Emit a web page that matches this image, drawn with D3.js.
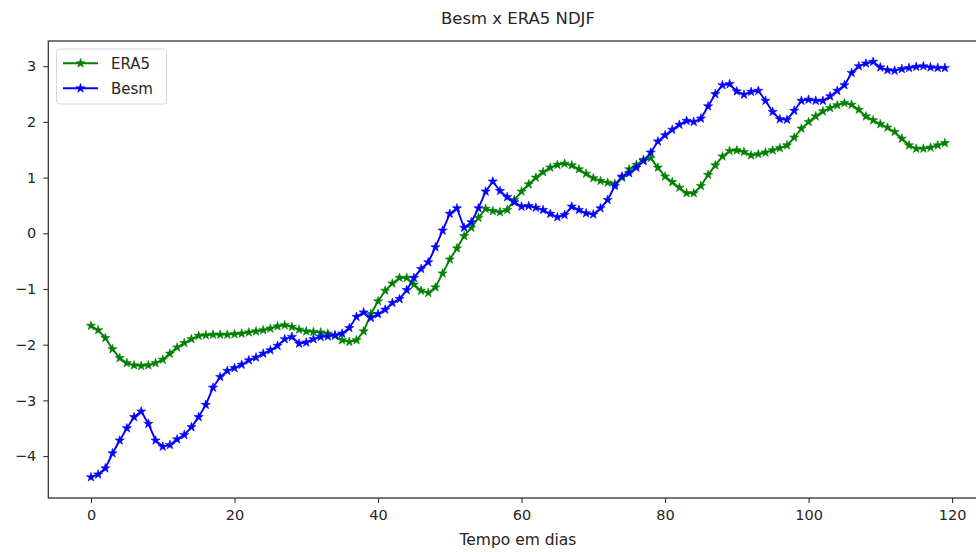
<!DOCTYPE html>
<html>
<head>
<meta charset="utf-8">
<script src="https://cdn.jsdelivr.net/npm/d3@7"></script>
<style>
  html, body { margin: 0; padding: 0; background: #fff; }
  svg { display: block; }
  text { font-family: "DejaVu Sans", sans-serif; fill: #262626; }
</style>
</head>
<body>
<svg id="chart" width="976" height="552"></svg>
<script>
const title = "Besm x ERA5 NDJF";
const xLabel = "Tempo em dias";
const seriesNames = ["ERA5", "Besm"];
const seriesColors = ["#008000", "#0000ff"];
const xTicks = [0, 20, 40, 60, 80, 100, 120];
const yTicks = [-4, -3, -2, -1, 0, 1, 2, 3];

const era5 = [
  -1.66, -1.74, -1.88, -2.08, -2.24, -2.33, -2.37, -2.38, -2.37, -2.33,
  -2.27, -2.16, -2.05, -1.97, -1.90, -1.84, -1.83, -1.82, -1.82, -1.82,
  -1.81, -1.80, -1.78, -1.76, -1.74, -1.71, -1.67, -1.65, -1.68, -1.73,
  -1.76, -1.77, -1.78, -1.80, -1.84, -1.92, -1.95, -1.92, -1.76, -1.45,
  -1.22, -1.03, -0.90, -0.80, -0.80, -0.92, -1.03, -1.07, -0.97, -0.72,
  -0.47, -0.27, -0.05, 0.10, 0.28, 0.44, 0.40, 0.38, 0.42, 0.60,
  0.75, 0.88, 1.00, 1.10, 1.18, 1.23, 1.25, 1.22, 1.15, 1.07,
  0.99, 0.94, 0.91, 0.89, 1.00, 1.15, 1.23, 1.32, 1.35, 1.18,
  1.02, 0.92, 0.82, 0.72, 0.72, 0.85, 1.05, 1.22, 1.38, 1.48,
  1.49, 1.46, 1.40, 1.42, 1.45, 1.49, 1.53, 1.58, 1.72, 1.88,
  2.00, 2.10, 2.19, 2.25, 2.30, 2.34, 2.31, 2.22, 2.10, 2.03,
  1.96, 1.90, 1.82, 1.70, 1.58, 1.52, 1.52, 1.54, 1.58, 1.62
];

const besm = [
  -4.38, -4.33, -4.22, -3.95, -3.72, -3.50, -3.30, -3.20, -3.42, -3.72,
  -3.83, -3.80, -3.70, -3.62, -3.48, -3.30, -3.08, -2.77, -2.58, -2.47,
  -2.42, -2.36, -2.28, -2.23, -2.16, -2.10, -2.02, -1.90, -1.86, -1.98,
  -1.96, -1.90, -1.86, -1.85, -1.83, -1.80, -1.70, -1.50, -1.42, -1.52,
  -1.45, -1.37, -1.25, -1.18, -1.02, -0.80, -0.64, -0.52, -0.25, 0.05,
  0.35, 0.45, 0.10, 0.20, 0.45, 0.75, 0.93, 0.76, 0.65, 0.56,
  0.48, 0.49, 0.46, 0.42, 0.35, 0.29, 0.33, 0.48, 0.42, 0.36,
  0.34, 0.45, 0.60, 0.85, 1.02, 1.08, 1.18, 1.30, 1.45, 1.65,
  1.76, 1.86, 1.95, 2.02, 2.00, 2.06, 2.28, 2.50, 2.66, 2.68,
  2.55, 2.49, 2.54, 2.56, 2.38, 2.18, 2.05, 2.04, 2.20, 2.38,
  2.40, 2.38, 2.38, 2.46, 2.56, 2.66, 2.88, 3.00, 3.05, 3.08,
  2.98, 2.93, 2.92, 2.95, 2.97, 2.99, 3.00, 2.98, 2.97, 2.97
];

const allSeries = [era5, besm];

const svg = d3.select("#chart");
const plot = { left: 48.3, top: 41, right: 987.6, bottom: 498 };

// matplotlib-style 5% margins
const n = era5.length;
const xMin = 0, xMax = n - 1;
const allVals = era5.concat(besm);
const yMin = d3.min(allVals), yMax = d3.max(allVals);
const xPad = (xMax - xMin) * 0.05, yPad = (yMax - yMin) * 0.05;

const x = d3.scaleLinear().domain([xMin - xPad, xMax + xPad]).range([plot.left, plot.right]);
const y = d3.scaleLinear().domain([yMin - yPad, yMax + yPad]).range([plot.bottom, plot.top]);

const fmt = v => (v < 0 ? "\u2212" + Math.abs(v) : String(v));

// axes
const xAxis = d3.axisBottom(x).tickValues(xTicks).tickSize(5).tickPadding(7).tickFormat(fmt);
const yAxis = d3.axisLeft(y).tickValues(yTicks).tickSize(5).tickPadding(7).tickFormat(fmt);

const gx = svg.append("g").attr("transform", `translate(0,${plot.bottom})`).call(xAxis);
const gy = svg.append("g").attr("transform", `translate(${plot.left},0)`).call(yAxis);
[gx, gy].forEach(g => {
  g.select(".domain").remove();
  g.selectAll(".tick line").attr("stroke", "#333").attr("stroke-width", 1.1);
  g.selectAll(".tick text").attr("font-size", 14.5).style("font-family", "'DejaVu Sans', sans-serif").attr("fill", "#262626");
});

// lines
const line = d3.line().x((d, i) => x(i)).y(d => y(d));
const star = d3.symbol().type(d3.symbolStar).size(26);

allSeries.forEach((data, si) => {
  const g = svg.append("g");
  g.append("path")
    .datum(data)
    .attr("d", line)
    .attr("fill", "none")
    .attr("stroke", seriesColors[si])
    .attr("stroke-width", 1.9)
    .attr("stroke-linejoin", "round");
  g.selectAll("path.m")
    .data(data)
    .enter().append("path")
    .attr("class", "m")
    .attr("d", star)
    .attr("transform", (d, i) => `translate(${x(i)},${y(d)})`)
    .attr("fill", seriesColors[si])
    .attr("stroke", seriesColors[si])
    .attr("stroke-width", 0.6);
});

// frame
svg.append("rect")
  .attr("x", plot.left).attr("y", plot.top)
  .attr("width", plot.right - plot.left).attr("height", plot.bottom - plot.top)
  .attr("fill", "none").attr("stroke", "#333").attr("stroke-width", 1.3);

// title & label
svg.append("text")
  .attr("x", (plot.left + plot.right) / 2).attr("y", 24)
  .attr("text-anchor", "middle").attr("font-size", 16.5)
  .text(title);
svg.append("text")
  .attr("x", (plot.left + plot.right) / 2).attr("y", 545)
  .attr("text-anchor", "middle").attr("font-size", 15.5)
  .text(xLabel);

// legend
const lg = svg.append("g");
lg.append("rect")
  .attr("x", 56.5).attr("y", 49).attr("width", 110).attr("height", 55)
  .attr("rx", 3).attr("fill", "#fff").attr("fill-opacity", 0.8)
  .attr("stroke", "#d8d8d8").attr("stroke-width", 1);
seriesNames.forEach((name, i) => {
  const yy = 63.3 + i * 25;
  lg.append("line")
    .attr("x1", 63).attr("x2", 98).attr("y1", yy).attr("y2", yy)
    .attr("stroke", seriesColors[i]).attr("stroke-width", 1.9);
  lg.append("path")
    .attr("d", star)
    .attr("transform", `translate(80.5,${yy})`)
    .attr("fill", seriesColors[i]).attr("stroke", seriesColors[i]).attr("stroke-width", 0.6);
  lg.append("text")
    .attr("x", 111).attr("y", yy + 5.3)
    .attr("font-size", 15)
    .text(name);
});
</script>
</body>
</html>
